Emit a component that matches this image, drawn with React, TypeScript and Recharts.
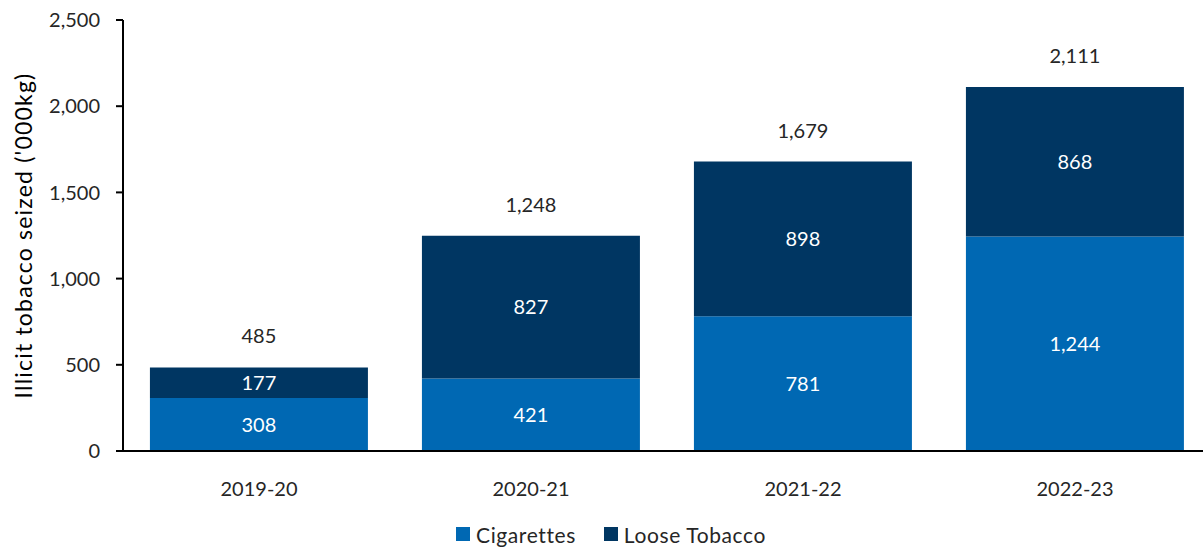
import React from 'react'
import { BarChart, Bar, XAxis, YAxis, Legend, LabelList } from 'recharts'

const years = ['2019-20', '2020-21', '2021-22', '2022-23']
const cigarettes = [308, 421, 781, 1244]
const looseTobacco = [177, 827, 898, 868]
const totals = [485, 1248, 1679, 2111]
const yTicks = [0, 500, 1000, 1500, 2000, 2500]

const CIG = '#0068b3'
const LOOSE = '#003662'
const TEXT = '#262626'
const FONT = 'Lato, "Open Sans", sans-serif'

const data = years.map((y, i) => ({
  year: y,
  Cigarettes: cigarettes[i],
  'Loose Tobacco': looseTobacco[i],
  total: totals[i],
}))

const fmt = (v: number) => v.toLocaleString('en-US')

const TotalLabel = (props: any) => {
  const { x, y, width, index } = props
  return (
    <text x={x + width / 2} y={y - 32} textAnchor="middle" dominantBaseline="central"
      fill={TEXT} fontSize={20} fontFamily={FONT}>
      {fmt(totals[index])}
    </text>
  )
}

// legend sits a little right of centre in the original
const LegendContent = () => (
  <div style={{ display: 'flex', alignItems: 'center', height: 28, paddingLeft: 456,
    fontFamily: FONT, fontSize: 21, letterSpacing: 0.6, color: TEXT }}>
    <span style={{ display: 'inline-block', width: 14, height: 14, background: CIG, marginRight: 6 }} />
    <span style={{ marginRight: 28 }}>Cigarettes</span>
    <span style={{ display: 'inline-block', width: 14, height: 14, background: LOOSE, marginRight: 6 }} />
    <span>Loose Tobacco</span>
  </div>
)

export default function App() {
  return (
    <div style={{ position: 'absolute', left: 0, top: 0, background: '#fff', width: 1203, height: 548, overflow: 'hidden' }}>
      <BarChart width={1203} height={548} data={data} barCategoryGap="9.9%"
        margin={{ top: 20, right: -8, bottom: 0, left: 0 }}>
        <XAxis dataKey="year" tickLine={false} tickMargin={25} height={69}
          axisLine={{ stroke: '#000', strokeWidth: 2 }}
          tick={{ fill: TEXT, fontSize: 20, fontFamily: FONT }} />
        <YAxis width={123} domain={[0, 2500]} ticks={yTicks} tickFormatter={fmt}
          tickSize={7} tickMargin={16}
          axisLine={{ stroke: '#000', strokeWidth: 2 }}
          tickLine={{ stroke: '#000', strokeWidth: 2 }}
          tick={{ fill: TEXT, fontSize: 20, fontFamily: FONT }}
          label={{ value: "Illicit tobacco seized ('000kg)", angle: -90, position: 'insideLeft',
            offset: 24, style: { fill: '#000', fontSize: 23, letterSpacing: 1.2, fontFamily: FONT, textAnchor: 'middle' } }} />
        <Legend verticalAlign="bottom" height={28} content={<LegendContent />} />
        <Bar dataKey="Cigarettes" stackId="a" fill={CIG} isAnimationActive={false}>
          <LabelList dataKey="Cigarettes" position="center" formatter={(v: any) => fmt(Number(v))}
            style={{ fill: '#fff', fontSize: 20, fontFamily: FONT }} />
        </Bar>
        <Bar dataKey="Loose Tobacco" stackId="a" fill={LOOSE} isAnimationActive={false}>
          <LabelList dataKey="Loose Tobacco" position="center" formatter={(v: any) => fmt(Number(v))}
            style={{ fill: '#fff', fontSize: 20, fontFamily: FONT }} />
          <LabelList dataKey="total" content={<TotalLabel />} />
        </Bar>
      </BarChart>
    </div>
  )
}
